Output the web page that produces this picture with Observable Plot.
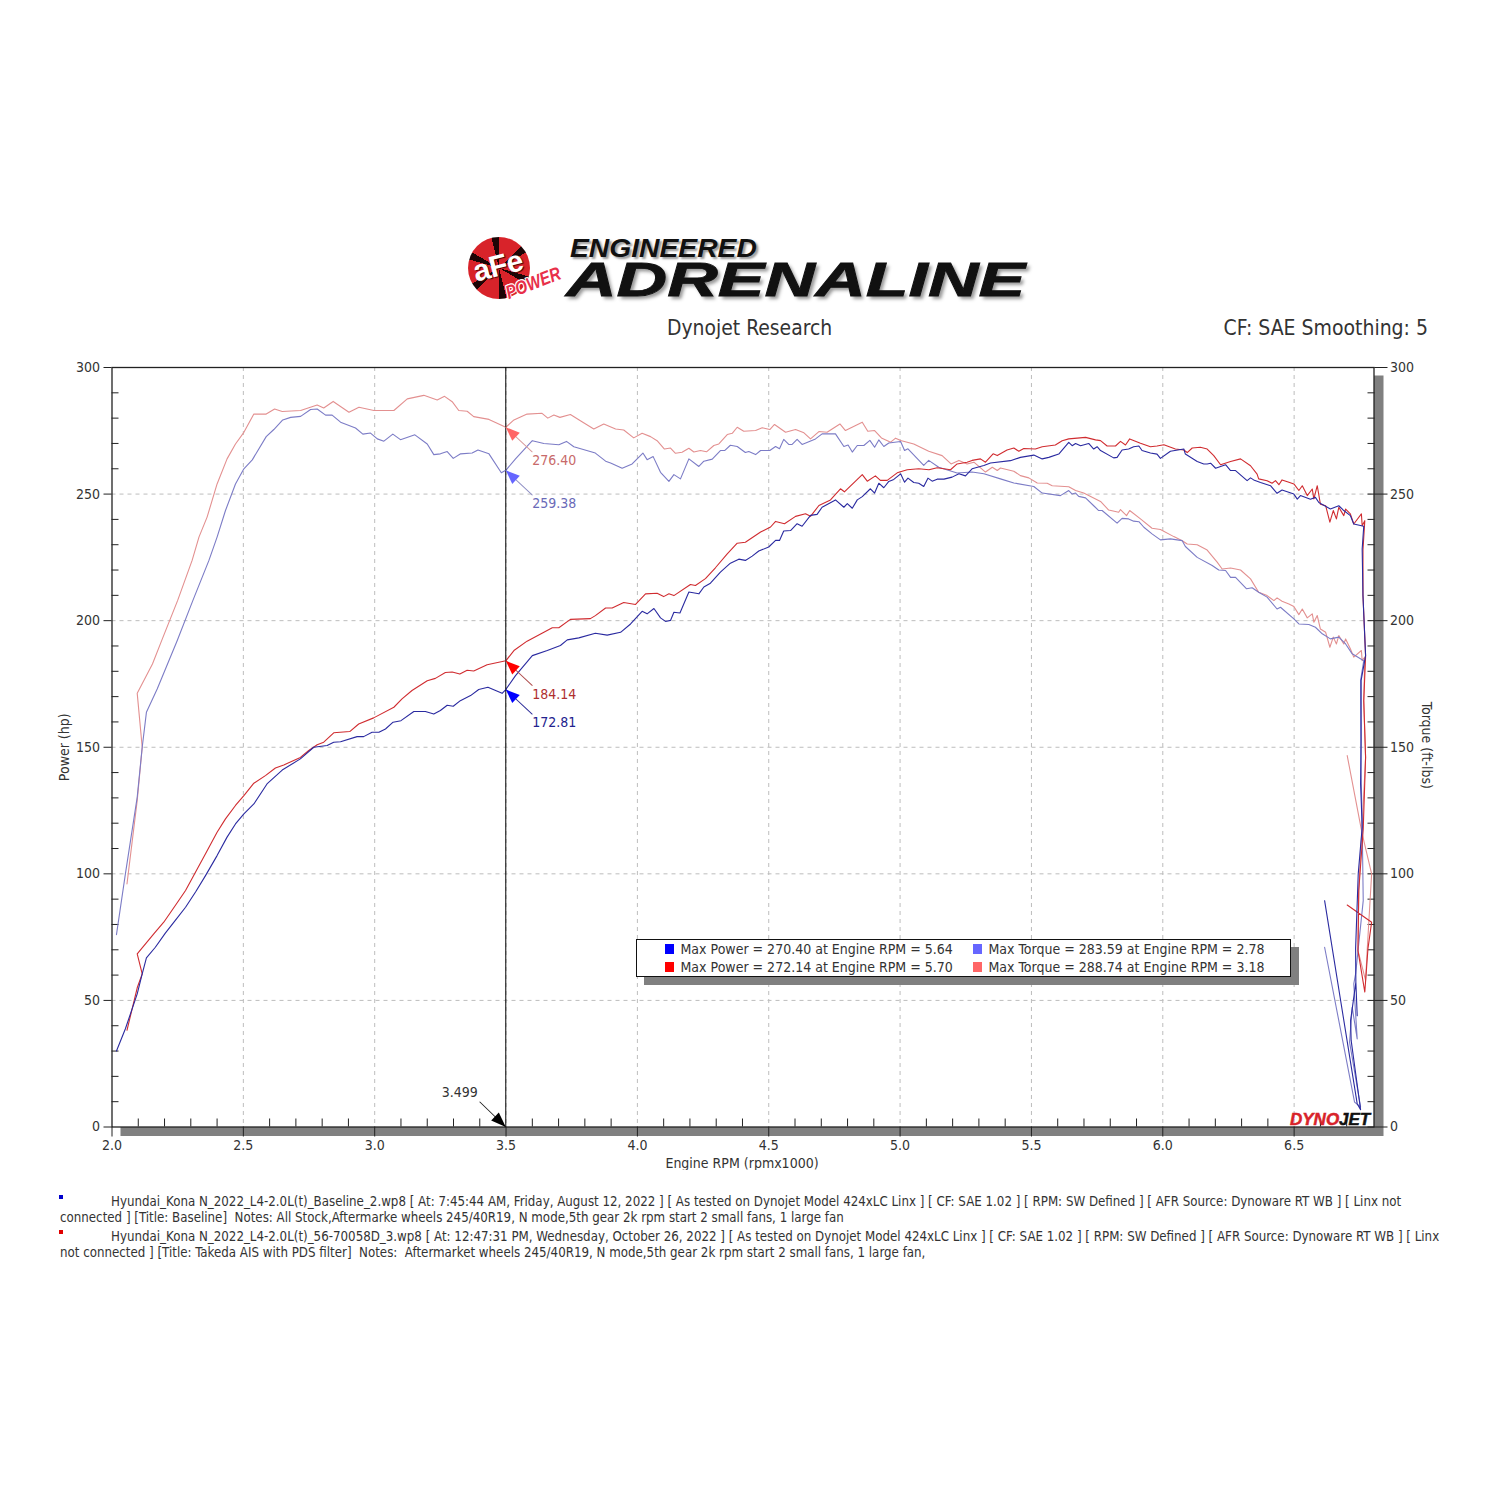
<!DOCTYPE html>
<html>
<head>
<meta charset="utf-8">
<script src="https://cdn.jsdelivr.net/npm/d3@7"></script>
<script src="https://cdn.jsdelivr.net/npm/@observablehq/plot@0.6"></script>
<style>
  html,body{margin:0;padding:0;background:#fff;}
  #page{position:relative;width:1500px;height:1500px;overflow:hidden;font-family:"DejaVu Sans Condensed","Noto Sans",sans-serif;color:#333;}
  #page>*{position:absolute;}
  #chart{left:0;top:340px;}
  .t{white-space:pre;}
  #legend{left:635.5px;top:939px;width:653px;height:36px;background:#fff;border:1px solid #111;box-shadow:8px 8px 0 #808080;font-size:14px;}
  #legend .k{position:absolute;width:9px;height:10px;}
  #legend .t{position:absolute;line-height:18px;}
  .note{left:60px;font-size:13.2px;line-height:16px;}
  .sq{width:4px;height:4px;left:59px;}
  .logo{font-family:"Liberation Sans",sans-serif;font-weight:bold;font-style:italic;white-space:nowrap;transform-origin:0 0;line-height:.76;}
</style>
</head>
<body>
<div id="page"></div>
<script>
// ---------- labels ----------
const chartTitle = "Dynojet Research";
const chartInfo = "CF: SAE Smoothing: 5";
const xLabel = "Engine RPM (rpmx1000)";
const yLeftLabel = "Power (hp)";
const yRightLabel = "Torque (ft-lbs)";
const legendLeft = ["Max Power = 270.40 at Engine RPM = 5.64", "Max Power = 272.14 at Engine RPM = 5.70"];
const legendRight = ["Max Torque = 283.59 at Engine RPM = 2.78", "Max Torque = 288.74 at Engine RPM = 3.18"];
const notes = [
 "Hyundai_Kona N_2022_L4-2.0L(t)_Baseline_2.wp8 [ At: 7:45:44 AM, Friday, August 12, 2022 ] [ As tested on Dynojet Model 424xLC Linx ] [ CF: SAE 1.02 ] [ RPM: SW Defined ] [ AFR Source: Dynoware RT WB ] [ Linx not",
 "connected ] [Title: Baseline]  Notes: All Stock,Aftermarke wheels 245/40R19, N mode,5th gear 2k rpm start 2 small fans, 1 large fan",
 "Hyundai_Kona N_2022_L4-2.0L(t)_56-70058D_3.wp8 [ At: 12:47:31 PM, Wednesday, October 26, 2022 ] [ As tested on Dynojet Model 424xLC Linx ] [ CF: SAE 1.02 ] [ RPM: SW Defined ] [ AFR Source: Dynoware RT WB ] [ Linx",
 "not connected ] [Title: Takeda AIS with PDS filter]  Notes:  Aftermarket wheels 245/40R19, N mode,5th gear 2k rpm start 2 small fans, 1 large fan,"
];

// ---------- colours ----------
const colBluePower = "#2a2aa0", colRedPower = "#d02c30", colBlueTorque = "#7c7cc6", colRedTorque = "#e39090";
const keyBluePower = "#0000ff", keyRedPower = "#ff0000", keyBlueTorque = "#6666ff", keyRedTorque = "#ff6666";

// ---------- series: [engine rpm x1000, value] ----------
const bluePower = [[2.017,30],[2.051,38.8],[2.096,52.6],[2.115,60.5],[2.131,66.8],[2.165,71],[2.203,76.6],[2.241,81.6],[2.28,86.8],[2.318,92.8],[2.356,99.3],[2.4,107.2],[2.438,114.5],[2.47,119.7],[2.502,123.7],[2.54,127.6],[2.59,135.5],[2.648,141],[2.717,145.4],[2.768,150],[2.819,150.7],[2.844,152],[2.87,152.2],[2.933,154.2],[2.958,154.2],[2.99,155.9],[3.016,155.9],[3.041,157.2],[3.07,159.9],[3.1,160.5],[3.149,164.1],[3.193,164.1],[3.225,163.1],[3.25,164.5],[3.276,166.6],[3.299,166.2],[3.326,168.4],[3.365,170.4],[3.396,172.8],[3.431,173.7],[3.485,171.3],[3.499,172.8],[3.536,178.3],[3.6,186.2],[3.657,188.2],[3.707,190.2],[3.733,192.4],[3.777,193.2],[3.84,195],[3.885,194.3],[3.936,195.4],[3.974,198.7],[4.018,203.7],[4.037,202.7],[4.063,204.8],[4.088,201.1],[4.107,199.7],[4.126,200.1],[4.139,203.3],[4.162,203],[4.196,211.3],[4.234,210.6],[4.253,213.3],[4.278,214.8],[4.316,219.2],[4.354,222.7],[4.386,224.3],[4.411,223.8],[4.437,225.5],[4.462,227.5],[4.5,229.1],[4.526,231.7],[4.541,231.7],[4.557,235.4],[4.583,235.6],[4.608,238.3],[4.627,237.3],[4.659,241.6],[4.684,242],[4.703,244.8],[4.754,247.7],[4.786,244.8],[4.799,246.2],[4.818,244.4],[4.837,247.7],[4.856,249],[4.887,252.1],[4.903,250.4],[4.919,254.3],[4.938,252.5],[4.957,255],[4.976,255.8],[5.002,258],[5.017,254.7],[5.03,256.3],[5.052,254.6],[5.071,254.3],[5.09,253],[5.106,256.3],[5.122,255.1],[5.141,255.9],[5.167,255.9],[5.198,256.7],[5.224,258],[5.249,257.2],[5.274,260],[5.319,261.3],[5.344,262.3],[5.42,263.2],[5.458,264.5],[5.509,265.4],[5.541,263.9],[5.566,264.5],[5.604,265.8],[5.642,270.4],[5.655,269.1],[5.668,270],[5.687,269.1],[5.718,270],[5.737,267.8],[5.75,268.7],[5.763,267.2],[5.813,264.3],[5.826,264.5],[5.845,267.4],[5.87,267.8],[5.889,268.7],[5.909,269],[5.921,267.2],[5.953,266.2],[5.978,265.8],[5.991,264.1],[6.029,266.9],[6.08,267.8],[6.086,265.8],[6.131,262.9],[6.156,261.9],[6.169,261.9],[6.182,262.2],[6.201,260.2],[6.239,261.6],[6.258,259.3],[6.277,259.3],[6.321,255.3],[6.334,256.4],[6.346,255.6],[6.372,254.6],[6.41,253.3],[6.435,250.3],[6.454,251.6],[6.499,250],[6.512,248],[6.524,249.4],[6.562,248],[6.581,248.7],[6.594,246.7],[6.638,244.1],[6.67,245.4],[6.689,243.5],[6.714,241.5],[6.727,238.2],[6.765,237.3],[6.759,228.3],[6.762,209.9],[6.772,186.2],[6.755,176.4],[6.755,168.5],[6.755,152.6],[6.753,135.5],[6.759,118.4],[6.744,100],[6.734,70.4],[6.735,57.2],[6.74,44],[6.735,57.2],[6.715,42.1],[6.717,34.2],[6.753,6.8],[6.74,9.2],[6.616,89.4]];

const redPower = [[2.057,38.2],[2.096,55],[2.115,60.5],[2.096,68.4],[2.159,76.3],[2.197,80.9],[2.241,87.5],[2.28,93.4],[2.311,99.3],[2.356,107.9],[2.4,116.4],[2.432,121.7],[2.47,127],[2.502,130.9],[2.54,135.8],[2.584,138.8],[2.622,141.8],[2.654,143],[2.717,146],[2.749,148.7],[2.781,151],[2.806,152],[2.844,155.7],[2.905,156.2],[2.939,159.2],[2.996,161.6],[3.073,165.8],[3.104,169.1],[3.142,172.4],[3.2,176.3],[3.231,177.2],[3.269,179.5],[3.295,179.7],[3.324,178.9],[3.352,180.4],[3.377,180.1],[3.428,182.6],[3.499,184.14],[3.53,188.2],[3.58,191.9],[3.637,195],[3.676,197.2],[3.701,197.2],[3.745,200.5],[3.821,200.8],[3.84,202],[3.879,205],[3.904,205],[3.948,207.2],[3.993,206.4],[4.031,210.6],[4.075,210.8],[4.1,209.5],[4.12,210.6],[4.139,209.9],[4.202,214.3],[4.221,213.9],[4.259,216.6],[4.297,220.9],[4.342,226.4],[4.38,230.6],[4.411,231],[4.469,235],[4.507,237],[4.526,239.2],[4.56,238.3],[4.602,241.2],[4.64,242.2],[4.659,241.2],[4.691,245.5],[4.735,247.7],[4.773,252.1],[4.788,250.9],[4.856,257.7],[4.875,255.1],[4.906,257.2],[4.925,255.4],[4.951,255.4],[4.989,258.4],[5.027,259.6],[5.071,260],[5.11,259.6],[5.141,260.4],[5.192,259.6],[5.217,261.9],[5.255,262.6],[5.274,263.3],[5.306,263.9],[5.325,262.6],[5.354,265.9],[5.37,265.2],[5.407,267.4],[5.433,268.2],[5.452,266.9],[5.471,268],[5.515,267.8],[5.541,268.7],[5.591,269.4],[5.617,271.1],[5.642,271.8],[5.706,272.4],[5.744,271.4],[5.763,271.1],[5.788,269],[5.82,269],[5.839,270.8],[5.858,269.4],[5.874,271.8],[5.915,270.1],[5.953,268.7],[5.978,269],[6.004,269.5],[6.048,267.8],[6.08,267.4],[6.093,266.4],[6.112,268.2],[6.143,268.5],[6.169,267.8],[6.194,265.2],[6.22,261.6],[6.258,262.9],[6.296,263.9],[6.334,261.2],[6.359,257.9],[6.365,256],[6.397,255.3],[6.416,254.3],[6.429,255.3],[6.442,253.7],[6.454,255.6],[6.48,254.7],[6.499,254],[6.518,251.4],[6.531,253.3],[6.55,249.4],[6.569,252],[6.575,248.1],[6.588,253.3],[6.6,246],[6.62,245.4],[6.636,238.9],[6.649,243.5],[6.661,240.2],[6.67,244.8],[6.689,241.5],[6.696,244.1],[6.714,242.2],[6.727,238.2],[6.756,242.2],[6.759,237.5],[6.769,239.5],[6.762,228],[6.762,210],[6.772,186],[6.765,168.4],[6.772,146],[6.763,117.7],[6.746,93.4],[6.743,69.7],[6.769,53.3],[6.781,70.4],[6.795,80.9],[6.702,87.7]];

const blueTorque = [[2.017,76],[2.051,100],[2.096,130.3],[2.115,150],[2.131,163.8],[2.172,173],[2.248,192.1],[2.308,208],[2.369,223.8],[2.4,233],[2.432,243.5],[2.47,254],[2.502,260],[2.534,263.5],[2.587,272.7],[2.616,275.5],[2.65,279.3],[2.68,280.3],[2.718,280.7],[2.756,283.4],[2.781,283.6],[2.813,281.2],[2.838,281.2],[2.87,278.4],[2.927,276.1],[2.955,273.7],[2.984,274.1],[3.01,271.8],[3.035,270.9],[3.069,273.7],[3.098,271.5],[3.153,273.4],[3.2,269.8],[3.225,265.6],[3.25,265.9],[3.276,266.8],[3.299,264.1],[3.327,265.9],[3.371,266.2],[3.393,267.4],[3.435,265.9],[3.482,258.4],[3.499,259.38],[3.536,263.9],[3.6,271.1],[3.644,270],[3.701,269.5],[3.73,270.8],[3.758,268.7],[3.84,266.2],[3.879,263],[3.898,262.3],[3.942,260.2],[3.98,261.9],[4.021,266.2],[4.037,263.6],[4.06,264.8],[4.088,258.6],[4.12,255],[4.139,257.7],[4.164,256],[4.196,263.9],[4.234,260.9],[4.253,263],[4.285,263.8],[4.316,267.2],[4.332,267.2],[4.354,269.3],[4.38,268.8],[4.411,266.4],[4.424,266.8],[4.45,265.6],[4.469,267.2],[4.504,267.2],[4.526,268.8],[4.541,267.9],[4.557,271.6],[4.576,269.6],[4.589,269.6],[4.608,271.6],[4.627,269.6],[4.678,271.8],[4.703,273.8],[4.754,273.8],[4.786,268.8],[4.802,269.4],[4.818,266.6],[4.837,269.2],[4.862,269.2],[4.885,271.2],[4.903,268.5],[4.919,271.4],[4.938,268.8],[4.957,270.2],[5.002,270.8],[5.017,267.2],[5.03,267.9],[5.09,261.3],[5.109,263.3],[5.147,260.6],[5.217,258.3],[5.274,258.7],[5.319,258],[5.382,256],[5.433,254.4],[5.509,253],[5.541,250.4],[5.61,249.4],[5.642,251.4],[5.655,250],[5.668,250.4],[5.68,249.1],[5.706,248.5],[5.737,245.4],[5.756,243.5],[5.769,243.5],[5.826,238.5],[5.845,240.4],[5.87,240.2],[5.889,239.3],[5.909,239.1],[5.928,236.9],[5.959,234.3],[5.991,231.9],[6.029,232.3],[6.074,231.6],[6.086,229.3],[6.131,225],[6.188,221.8],[6.213,220],[6.239,219.8],[6.258,217.1],[6.277,217.1],[6.319,212.6],[6.34,213],[6.365,211.2],[6.397,209.3],[6.435,204.6],[6.448,205.3],[6.499,200.7],[6.518,198.7],[6.556,198.5],[6.581,197.4],[6.607,194.8],[6.638,192.8],[6.67,193.5],[6.696,190.8],[6.721,186.9],[6.765,184.2],[6.753,176.4],[6.753,168.5],[6.755,139.4],[6.759,119.7],[6.763,89.4],[6.734,60.5],[6.727,56.5],[6.74,34.8],[6.721,47.3],[6.711,33.5],[6.753,7.9],[6.73,9.8],[6.616,71]];

const redTorque = [[2.057,96],[2.096,129],[2.115,150],[2.096,171.3],[2.154,182.9],[2.189,192.1],[2.25,208],[2.305,223.8],[2.331,233],[2.362,240.9],[2.4,254],[2.438,263.9],[2.47,269.8],[2.502,274.4],[2.54,281.6],[2.587,281.6],[2.619,283.6],[2.648,282.6],[2.718,283],[2.781,285.2],[2.806,284],[2.842,286.6],[2.902,282.3],[2.94,284.3],[2.997,283],[3.073,283],[3.124,287.6],[3.187,289],[3.238,287.2],[3.266,288.6],[3.295,286.5],[3.32,283],[3.352,282.7],[3.377,280.6],[3.435,279.5],[3.499,276.4],[3.53,279.3],[3.58,281.6],[3.637,281.9],[3.659,280],[3.682,281.2],[3.705,280.3],[3.745,281.4],[3.783,279],[3.834,275.7],[3.872,277.7],[3.917,275.7],[3.948,275.3],[3.986,272.2],[4.018,274],[4.05,272.7],[4.075,271.1],[4.103,267.8],[4.126,268.2],[4.145,266.1],[4.17,266.5],[4.196,268.1],[4.215,266.6],[4.24,267.2],[4.263,266.7],[4.291,269.2],[4.31,269.8],[4.342,273.5],[4.361,274],[4.38,276.4],[4.405,274.8],[4.45,275.1],[4.475,276.2],[4.504,275.5],[4.522,277.5],[4.564,274.4],[4.602,275.5],[4.634,274.2],[4.659,271.8],[4.691,274.7],[4.722,274.4],[4.771,277.7],[4.792,275.1],[4.856,278.4],[4.877,274.8],[4.903,275.1],[4.929,272.2],[4.964,270.5],[4.983,272.1],[5.002,271.2],[5.052,269.8],[5.109,266.9],[5.16,265.2],[5.194,261.9],[5.224,263.3],[5.255,261.9],[5.281,262.6],[5.325,258.7],[5.351,260.6],[5.37,259.3],[5.382,260.3],[5.433,259],[5.458,257.3],[5.49,256.4],[5.522,254.4],[5.56,254.3],[5.579,253.3],[5.642,252.9],[5.668,251.4],[5.699,250.4],[5.763,247.1],[5.794,243.7],[5.832,242.8],[5.839,243.9],[5.862,241.5],[5.874,243.5],[5.915,240.2],[5.959,236.5],[5.991,236],[6.042,233.2],[6.074,231.6],[6.093,230.3],[6.131,230],[6.169,227.9],[6.207,223.1],[6.226,220.4],[6.258,220.8],[6.296,220],[6.334,216.5],[6.365,211.2],[6.397,209.9],[6.423,207.9],[6.435,209],[6.454,207.7],[6.48,206.6],[6.499,205.6],[6.518,202.4],[6.531,204.6],[6.55,201.1],[6.569,202.7],[6.575,199.4],[6.588,202],[6.6,196.7],[6.62,195.4],[6.636,189.5],[6.649,193.5],[6.661,190.8],[6.67,194.1],[6.689,190.8],[6.696,192.8],[6.714,188.9],[6.727,185.6],[6.756,188.2],[6.759,184.2],[6.769,185.6],[6.765,168.4],[6.772,146],[6.765,131.5],[6.746,93.4],[6.743,69.7],[6.772,57.9],[6.778,69.7],[6.795,100],[6.759,115.8],[6.702,146.7]];

// ---------- cursor readout ----------
const cursorRpm = 3.499;
const cursorLabel = "3.499";
const readouts = [
  {v: 276.40, label: "276.40", head: keyRedTorque, lead: "#d99a9a", ink: "#c86a6a"},
  {v: 259.38, label: "259.38", head: keyBlueTorque, lead: "#8f8fc4", ink: "#6a6ab8"},
  {v: 184.14, label: "184.14", head: keyRedPower, lead: "#b05050", ink: "#b03030"},
  {v: 172.81, label: "172.81", head: keyBluePower, lead: "#30309a", ink: "#22228e"}
];

// ---------- axis ticks ----------
const xMajor = [2, 2.5, 3, 3.5, 4, 4.5, 5, 5.5, 6, 6.5];
const xMinor = [2.1,2.2,2.3,2.4,2.6,2.7,2.8,2.9,3.1,3.2,3.3,3.4,3.6,3.7,3.8,3.9,4.1,4.2,4.3,4.4,4.6,4.7,4.8,4.9,5.1,5.2,5.3,5.4,5.6,5.7,5.8,5.9,6.1,6.2,6.3,6.4,6.6,6.7];
const yMajor = [0, 50, 100, 150, 200, 250, 300];
const yMinor = [10,20,30,40,60,70,80,90,110,120,130,140,160,170,180,190,210,220,230,240,260,270,280,290];
const xDomain = [2, 6.804];
const yDomain = [0, 300];

const pts = a => a.map(([x, y]) => ({x, y}));
const headShape = {draw(c, l) { const w = 5.5; c.moveTo(0, 0); c.lineTo(w, -l); c.lineTo(-w, -l); c.closePath(); }};
const leadShape = {draw(c, l) { c.moveTo(0, 0); c.lineTo(0, -l); }};
const ink = "#333";

const chart = Plot.plot({
  width: 1500, height: 830,
  marginLeft: 111.5, marginRight: 126.5, marginTop: 27, marginBottom: 43.5,
  style: {fontFamily: '"DejaVu Sans Condensed","Noto Sans",sans-serif', fontSize: "14px", color: ink, background: "transparent"},
  x: {domain: xDomain, axis: null},
  y: {domain: yDomain, axis: null},
  marks: [
    Plot.frame({fill: "#808080", stroke: "#808080", dx: 9, dy: 8.5}),
    Plot.frame({fill: "#fff"}),
    Plot.gridX(xMajor.slice(1), {stroke: "#bdbdbd", strokeOpacity: 1, strokeDasharray: "4 4"}),
    Plot.gridY(yMajor.slice(1, -1), {stroke: "#bdbdbd", strokeOpacity: 1, strokeDasharray: "4 4"}),
    Plot.frame({stroke: "#222", strokeWidth: 1.3}),
    // minor ticks, inside the frame
    Plot.axisX({ticks: xMinor, anchor: "bottom", text: null, label: null, tickSize: 8, dy: -8, stroke: "#222"}),
    Plot.axisY({ticks: yMinor, anchor: "left", text: null, label: null, tickSize: 7, dx: 7, stroke: "#222"}),
    Plot.axisY({ticks: yMinor.concat(yMajor), anchor: "right", text: null, label: null, tickSize: 7, dx: -7, stroke: "#222"}),
    // major ticks and labels
    Plot.axisX({ticks: xMajor, anchor: "bottom", tickSize: 10, tickPadding: 3, label: null, tickFormat: d3.format(".1f"), stroke: "#222", fill: ink}),
    Plot.axisY({ticks: yMajor, anchor: "left", tickSize: 8, tickPadding: 4, label: null, tickFormat: d => d, stroke: "#222", fill: ink}),
    Plot.axisY({ticks: yMajor, anchor: "right", tickSize: 13, tickPadding: 3, label: null, tickFormat: d => d, stroke: "#222", fill: ink}),
    // axis titles
    Plot.text([xLabel], {frameAnchor: "bottom", text: d => d, dy: 41, dx: -1, fill: ink}),
    Plot.text([yLeftLabel], {frameAnchor: "left", textAnchor: "middle", text: d => d, rotate: -90, dx: -47, fill: ink}),
    Plot.text([yRightLabel], {frameAnchor: "right", textAnchor: "middle", text: d => d, rotate: 90, dx: 52, dy: -2, fill: ink}),
    // curves
    Plot.line(pts(redTorque), {x: "x", y: "y", stroke: colRedTorque, strokeWidth: 1.1}),
    Plot.line(pts(blueTorque), {x: "x", y: "y", stroke: colBlueTorque, strokeWidth: 1.1}),
    Plot.line(pts(redPower), {x: "x", y: "y", stroke: colRedPower, strokeWidth: 1.1}),
    Plot.line(pts(bluePower), {x: "x", y: "y", stroke: colBluePower, strokeWidth: 1.1}),
    // cursor
    Plot.ruleX([cursorRpm], {stroke: "#000", strokeWidth: 1}),
    Plot.vector([cursorRpm], {x: d => d, y: 0, length: 36, rotate: -46, anchor: "start", shape: leadShape, stroke: "#222", strokeWidth: 1}),
    Plot.vector([cursorRpm], {x: d => d, y: 0, length: 15, rotate: -46, anchor: "start", shape: headShape, fill: "#000", stroke: "none"}),
    Plot.text([cursorLabel], {x: cursorRpm, y: 0, text: d => d, dx: -46, dy: -34, fill: ink}),
    // readouts at the cursor
    Plot.vector(readouts, {x: cursorRpm, y: "v", length: 36, rotate: 133, anchor: "start", shape: leadShape, stroke: d => d.lead, strokeWidth: 1}),
    Plot.vector(readouts, {x: cursorRpm, y: "v", length: 14, rotate: 133, anchor: "start", shape: headShape, fill: d => d.head, stroke: "none"}),
    Plot.text(readouts, {x: cursorRpm, y: "v", text: "label", textAnchor: "start", dx: 26.5, dy: 33.5, fill: d => d.ink})
  ]
});

const page = document.getElementById("page");
chart.id = "chart";
page.appendChild(chart);

function add(html, css, cls) {
  const e = document.createElement("div");
  e.className = cls || "t";
  e.textContent = html;
  e.style.cssText = css;
  page.appendChild(e);
  return e;
}

// logo, drawn as text
const spoke = "#d8232a 0 46deg,#1c0506 46deg 60deg";
add("", `left:468px;top:237px;width:62px;height:62px;border-radius:50%;background:repeating-conic-gradient(${spoke});`, "c");
add("aFe", "left:473px;top:255px;font-size:30px;font-style:normal;color:#fff;transform:rotate(-14deg);transform-origin:50% 50%;letter-spacing:-0.5px;text-shadow:1px 1px 1px #400;", "logo");
add("POWER", "left:504px;top:287px;font-size:19px;color:#e8304a;transform:rotate(-21deg) scaleX(.8);text-shadow:-1px -1px 0 #fff,1px -1px 0 #fff,-1px 1px 0 #fff,1px 1px 0 #fff;", "logo");
add("ENGINEERED", "left:570px;top:239px;font-size:25px;color:#111;transform:scaleX(1.13);text-shadow:2px 2px 2px #999;", "logo");
add("ADRENALINE", "left:566px;top:261px;font-size:49px;color:#111;-webkit-text-stroke:.8px #111;transform:scaleX(1.43);text-shadow:2px 3px 3px #999;", "logo");

// titles
add(chartTitle, "left:667px;top:314px;font-size:20.9px;line-height:28px;");
add(chartInfo, "right:72px;top:314px;font-size:21px;line-height:28px;");

// legend
const lg = document.createElement("div");
lg.id = "legend";
[[legendLeft, keyBluePower, keyRedPower, 28, 44], [legendRight, keyBlueTorque, keyRedTorque, 336, 352]].forEach(([txt, c1, c2, kx, tx]) => {
  txt.forEach((s, i) => {
    const k = document.createElement("div");
    k.className = "k";
    k.style.cssText = `left:${kx}px;top:${4 + i * 18}px;background:${i ? c2 : c1};`;
    lg.appendChild(k);
    const t = document.createElement("div");
    t.className = "t";
    t.textContent = s;
    t.style.cssText = `left:${tx}px;top:${i * 18}px;`;
    lg.appendChild(t);
  });
});
page.appendChild(lg);

// dyno brand mark
add("DYNO", "left:1290px;top:1114px;font-size:17px;color:#d8232a;-webkit-text-stroke:.5px #d8232a;", "logo");
add("JET", "left:1339px;top:1114px;font-size:17px;color:#111;-webkit-text-stroke:.5px #111;", "logo");

// footer notes
add("", `top:1195px;background:#0000cc;`, "sq");
add("", `top:1230px;background:#e00000;`, "sq");
add(notes[0], "top:1194px;left:111px;", "note t");
add(notes[1], "top:1210px;", "note t");
add(notes[2], "top:1229px;left:111px;", "note t");
add(notes[3], "top:1245px;", "note t");
</script>
</body>
</html>
